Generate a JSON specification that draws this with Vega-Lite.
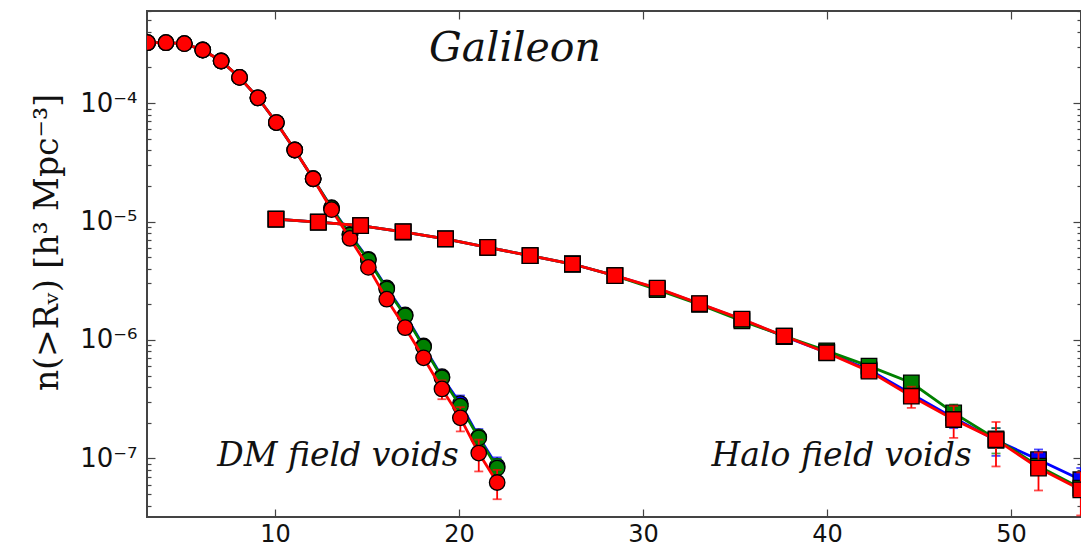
{
  "$schema": "https://vega.github.io/schema/vega-lite/v6.json",
  "width": 934,
  "height": 506,
  "autosize": {"type": "none"},
  "padding": {"left": 147, "top": 11, "right": 0, "bottom": 31},
  "background": "white",
  "config": {
    "view": {"stroke": "#444444", "strokeWidth": 2},
    "axis": {"domain": false, "grid": false, "labelFont": "DejaVu Sans", "labelFontSize": 26, "labelColor": "#111111", "tickColor": "#444444", "tickWidth": 1.2}
  },
  "datasets": {
    "voids": [
      {"type": "DM", "series": "blue", "R": 3.07, "n": 3.24e-4},
      {"type": "DM", "series": "green", "R": 3.07, "n": 3.24e-4},
      {"type": "DM", "series": "red", "R": 3.07, "n": 3.24e-4},
      {"type": "DM", "series": "blue", "R": 4.07, "n": 3.24e-4},
      {"type": "DM", "series": "green", "R": 4.07, "n": 3.24e-4},
      {"type": "DM", "series": "red", "R": 4.07, "n": 3.24e-4},
      {"type": "DM", "series": "blue", "R": 5.07, "n": 3.18e-4},
      {"type": "DM", "series": "green", "R": 5.07, "n": 3.18e-4},
      {"type": "DM", "series": "red", "R": 5.07, "n": 3.18e-4},
      {"type": "DM", "series": "blue", "R": 6.07, "n": 2.81e-4},
      {"type": "DM", "series": "green", "R": 6.07, "n": 2.81e-4},
      {"type": "DM", "series": "red", "R": 6.07, "n": 2.81e-4},
      {"type": "DM", "series": "blue", "R": 7.07, "n": 2.27e-4},
      {"type": "DM", "series": "green", "R": 7.07, "n": 2.27e-4},
      {"type": "DM", "series": "red", "R": 7.07, "n": 2.27e-4},
      {"type": "DM", "series": "blue", "R": 8.07, "n": 1.65e-4},
      {"type": "DM", "series": "green", "R": 8.07, "n": 1.65e-4},
      {"type": "DM", "series": "red", "R": 8.07, "n": 1.65e-4},
      {"type": "DM", "series": "blue", "R": 9.07, "n": 1.11e-4},
      {"type": "DM", "series": "green", "R": 9.07, "n": 1.11e-4},
      {"type": "DM", "series": "red", "R": 9.07, "n": 1.11e-4},
      {"type": "DM", "series": "blue", "R": 10.07, "n": 6.86e-5},
      {"type": "DM", "series": "green", "R": 10.07, "n": 6.86e-5},
      {"type": "DM", "series": "red", "R": 10.07, "n": 6.86e-5},
      {"type": "DM", "series": "blue", "R": 11.07, "n": 4.02e-5},
      {"type": "DM", "series": "green", "R": 11.07, "n": 4.02e-5},
      {"type": "DM", "series": "red", "R": 11.07, "n": 4.02e-5},
      {"type": "DM", "series": "blue", "R": 12.07, "n": 2.30e-5},
      {"type": "DM", "series": "green", "R": 12.07, "n": 2.30e-5},
      {"type": "DM", "series": "red", "R": 12.07, "n": 2.30e-5},
      {"type": "DM", "series": "blue", "R": 13.07, "n": 1.31e-5},
      {"type": "DM", "series": "green", "R": 13.07, "n": 1.30e-5},
      {"type": "DM", "series": "red", "R": 13.07, "n": 1.26e-5},
      {"type": "DM", "series": "blue", "R": 14.07, "n": 7.8e-6},
      {"type": "DM", "series": "green", "R": 14.07, "n": 7.7e-6},
      {"type": "DM", "series": "red", "R": 14.07, "n": 7.2e-6},
      {"type": "DM", "series": "blue", "R": 15.07, "n": 4.80e-6},
      {"type": "DM", "series": "green", "R": 15.07, "n": 4.73e-6},
      {"type": "DM", "series": "red", "R": 15.07, "n": 4.10e-6},
      {"type": "DM", "series": "blue", "R": 16.07, "n": 2.75e-6},
      {"type": "DM", "series": "green", "R": 16.07, "n": 2.69e-6},
      {"type": "DM", "series": "red", "R": 16.07, "n": 2.21e-6},
      {"type": "DM", "series": "blue", "R": 17.07, "n": 1.63e-6},
      {"type": "DM", "series": "green", "R": 17.07, "n": 1.60e-6},
      {"type": "DM", "series": "red", "R": 17.07, "n": 1.27e-6, "lo": 1.15e-6, "hi": 1.39e-6},
      {"type": "DM", "series": "blue", "R": 18.07, "n": 8.9e-7},
      {"type": "DM", "series": "green", "R": 18.07, "n": 8.74e-7},
      {"type": "DM", "series": "red", "R": 18.07, "n": 7.07e-7, "lo": 6.3e-7, "hi": 7.9e-7},
      {"type": "DM", "series": "blue", "R": 19.07, "n": 4.9e-7, "lo": 4.4e-7, "hi": 5.4e-7},
      {"type": "DM", "series": "green", "R": 19.07, "n": 4.80e-7, "lo": 4.3e-7, "hi": 5.3e-7},
      {"type": "DM", "series": "red", "R": 19.07, "n": 3.86e-7, "lo": 3.16e-7, "hi": 4.56e-7},
      {"type": "DM", "series": "blue", "R": 20.07, "n": 2.9e-7, "lo": 2.45e-7, "hi": 3.4e-7},
      {"type": "DM", "series": "green", "R": 20.07, "n": 2.76e-7, "lo": 2.4e-7, "hi": 3.1e-7},
      {"type": "DM", "series": "red", "R": 20.07, "n": 2.20e-7, "lo": 1.69e-7, "hi": 2.71e-7},
      {"type": "DM", "series": "blue", "R": 21.07, "n": 1.52e-7, "lo": 1.27e-7, "hi": 1.77e-7},
      {"type": "DM", "series": "green", "R": 21.07, "n": 1.49e-7, "lo": 1.25e-7, "hi": 1.73e-7},
      {"type": "DM", "series": "red", "R": 21.07, "n": 1.11e-7, "lo": 7.76e-8, "hi": 1.44e-7},
      {"type": "DM", "series": "blue", "R": 22.07, "n": 8.6e-8, "lo": 7.0e-8, "hi": 1.02e-7},
      {"type": "DM", "series": "green", "R": 22.07, "n": 8.28e-8, "lo": 6.6e-8, "hi": 9.9e-8},
      {"type": "DM", "series": "red", "R": 22.07, "n": 6.26e-8, "lo": 4.52e-8, "hi": 8.0e-8},
      {"type": "Halo", "series": "blue", "R": 10.05, "n": 1.05e-5},
      {"type": "Halo", "series": "green", "R": 10.05, "n": 1.05e-5},
      {"type": "Halo", "series": "red", "R": 10.05, "n": 1.05e-5},
      {"type": "Halo", "series": "blue", "R": 12.35, "n": 9.9e-6},
      {"type": "Halo", "series": "green", "R": 12.35, "n": 9.9e-6},
      {"type": "Halo", "series": "red", "R": 12.35, "n": 9.9e-6},
      {"type": "Halo", "series": "blue", "R": 14.65, "n": 9.25e-6},
      {"type": "Halo", "series": "green", "R": 14.65, "n": 9.25e-6},
      {"type": "Halo", "series": "red", "R": 14.65, "n": 9.25e-6},
      {"type": "Halo", "series": "blue", "R": 16.96, "n": 8.2e-6},
      {"type": "Halo", "series": "green", "R": 16.96, "n": 8.2e-6},
      {"type": "Halo", "series": "red", "R": 16.96, "n": 8.2e-6},
      {"type": "Halo", "series": "blue", "R": 19.26, "n": 7.14e-6},
      {"type": "Halo", "series": "green", "R": 19.26, "n": 7.14e-6},
      {"type": "Halo", "series": "red", "R": 19.26, "n": 7.14e-6},
      {"type": "Halo", "series": "blue", "R": 21.56, "n": 6.05e-6},
      {"type": "Halo", "series": "green", "R": 21.56, "n": 6.05e-6},
      {"type": "Halo", "series": "red", "R": 21.56, "n": 6.05e-6},
      {"type": "Halo", "series": "blue", "R": 23.86, "n": 5.15e-6},
      {"type": "Halo", "series": "green", "R": 23.86, "n": 5.15e-6},
      {"type": "Halo", "series": "red", "R": 23.86, "n": 5.15e-6},
      {"type": "Halo", "series": "blue", "R": 26.16, "n": 4.38e-6},
      {"type": "Halo", "series": "green", "R": 26.16, "n": 4.38e-6},
      {"type": "Halo", "series": "red", "R": 26.16, "n": 4.38e-6},
      {"type": "Halo", "series": "blue", "R": 28.47, "n": 3.49e-6},
      {"type": "Halo", "series": "green", "R": 28.47, "n": 3.49e-6},
      {"type": "Halo", "series": "red", "R": 28.47, "n": 3.49e-6},
      {"type": "Halo", "series": "blue", "R": 30.77, "n": 2.72e-6},
      {"type": "Halo", "series": "green", "R": 30.77, "n": 2.66e-6},
      {"type": "Halo", "series": "red", "R": 30.77, "n": 2.74e-6},
      {"type": "Halo", "series": "blue", "R": 33.07, "n": 2.02e-6},
      {"type": "Halo", "series": "green", "R": 33.07, "n": 2.0e-6},
      {"type": "Halo", "series": "red", "R": 33.07, "n": 2.03e-6},
      {"type": "Halo", "series": "blue", "R": 35.37, "n": 1.49e-6},
      {"type": "Halo", "series": "green", "R": 35.37, "n": 1.45e-6},
      {"type": "Halo", "series": "red", "R": 35.37, "n": 1.50e-6},
      {"type": "Halo", "series": "blue", "R": 37.67, "n": 1.07e-6},
      {"type": "Halo", "series": "green", "R": 37.67, "n": 1.08e-6},
      {"type": "Halo", "series": "red", "R": 37.67, "n": 1.08e-6},
      {"type": "Halo", "series": "blue", "R": 39.98, "n": 7.85e-7},
      {"type": "Halo", "series": "green", "R": 39.98, "n": 8.1e-7},
      {"type": "Halo", "series": "red", "R": 39.98, "n": 7.80e-7, "lo": 7.2e-7, "hi": 8.4e-7},
      {"type": "Halo", "series": "blue", "R": 42.28, "n": 5.6e-7},
      {"type": "Halo", "series": "green", "R": 42.28, "n": 6.02e-7},
      {"type": "Halo", "series": "red", "R": 42.28, "n": 5.46e-7, "lo": 4.9e-7, "hi": 6.0e-7},
      {"type": "Halo", "series": "blue", "R": 44.58, "n": 3.5e-7},
      {"type": "Halo", "series": "green", "R": 44.58, "n": 4.35e-7, "lo": 3.9e-7, "hi": 4.8e-7},
      {"type": "Halo", "series": "red", "R": 44.58, "n": 3.35e-7, "lo": 2.67e-7, "hi": 4.03e-7},
      {"type": "Halo", "series": "blue", "R": 46.88, "n": 2.2e-7, "lo": 1.8e-7, "hi": 2.6e-7},
      {"type": "Halo", "series": "green", "R": 46.88, "n": 2.42e-7, "lo": 2.0e-7, "hi": 2.85e-7},
      {"type": "Halo", "series": "red", "R": 46.88, "n": 2.13e-7, "lo": 1.49e-7, "hi": 2.77e-7},
      {"type": "Halo", "series": "blue", "R": 49.18, "n": 1.42e-7, "lo": 1.05e-7, "hi": 1.8e-7},
      {"type": "Halo", "series": "green", "R": 49.18, "n": 1.46e-7, "lo": 1.1e-7, "hi": 1.8e-7},
      {"type": "Halo", "series": "red", "R": 49.18, "n": 1.44e-7, "lo": 8.55e-8, "hi": 2.03e-7},
      {"type": "Halo", "series": "blue", "R": 51.49, "n": 9.75e-8, "lo": 7.6e-8, "hi": 1.19e-7},
      {"type": "Halo", "series": "green", "R": 51.49, "n": 8.6e-8},
      {"type": "Halo", "series": "red", "R": 51.49, "n": 8.28e-8, "lo": 5.36e-8, "hi": 1.12e-7},
      {"type": "Halo", "series": "blue", "R": 53.79, "n": 6.6e-8, "lo": 4.9e-8, "hi": 8.3e-8},
      {"type": "Halo", "series": "green", "R": 53.79, "n": 5.6e-8},
      {"type": "Halo", "series": "red", "R": 53.79, "n": 5.43e-8, "lo": 3.3e-8, "hi": 7.6e-8}
    ],
    "notes": [
      {"label": "Galileon", "kind": "title", "R": 23.04, "n": 2.29e-4},
      {"label": "DM field voids", "kind": "note", "R": 13.42, "n": 8.57e-8},
      {"label": "Halo field voids", "kind": "note", "R": 40.79, "n": 8.57e-8}
    ]
  },
  "data": {"name": "voids"},
  "resolve": {"axis": {"x": "independent", "y": "independent"}},
  "layer": [
    {
      "transform": [{"filter": "datum.series == 'blue'"}],
      "mark": {"type": "line", "color": "#0000ff", "strokeWidth": 2.8, "clip": true},
      "encoding": {
        "x": {"field": "R", "type": "quantitative", "scale": {"domain": [3.04, 53.8], "nice": false, "zero": false}, "axis": null},
        "y": {"field": "n", "type": "quantitative", "scale": {"type": "log", "domain": [3.2e-8, 6.0e-4], "nice": false}, "axis": null},
        "detail": {"field": "type"}
      }
    },
    {
      "transform": [{"filter": "datum.series == 'blue' && isValid(datum.lo)"}],
      "mark": {"type": "errorbar", "ticks": true, "size": 9, "thickness": 1.8, "color": "#0000ff"},
      "encoding": {
        "x": {"field": "R", "type": "quantitative", "axis": null},
        "y": {"field": "lo", "type": "quantitative", "axis": null},
        "y2": {"field": "hi"}
      }
    },
    {
      "transform": [{"filter": "datum.series == 'blue'"}],
      "mark": {"type": "point", "filled": true, "color": "#0000ff", "stroke": "#000000", "strokeWidth": 1.3, "opacity": 1, "size": 240, "clip": true},
      "encoding": {
        "x": {"field": "R", "type": "quantitative", "axis": null},
        "y": {"field": "n", "type": "quantitative", "axis": null},
        "shape": {"field": "type", "type": "nominal", "scale": {"domain": ["DM", "Halo"], "range": ["circle", "square"]}, "legend": null}
      }
    },
    {
      "transform": [{"filter": "datum.series == 'green'"}],
      "mark": {"type": "line", "color": "#008000", "strokeWidth": 2.8, "clip": true},
      "encoding": {
        "x": {"field": "R", "type": "quantitative", "axis": null},
        "y": {"field": "n", "type": "quantitative", "axis": null},
        "detail": {"field": "type"}
      }
    },
    {
      "transform": [{"filter": "datum.series == 'green' && isValid(datum.lo)"}],
      "mark": {"type": "errorbar", "ticks": true, "size": 9, "thickness": 1.8, "color": "#008000"},
      "encoding": {
        "x": {"field": "R", "type": "quantitative", "axis": null},
        "y": {"field": "lo", "type": "quantitative", "axis": null},
        "y2": {"field": "hi"}
      }
    },
    {
      "transform": [{"filter": "datum.series == 'green'"}],
      "mark": {"type": "point", "filled": true, "color": "#008000", "stroke": "#000000", "strokeWidth": 1.3, "opacity": 1, "size": 240, "clip": true},
      "encoding": {
        "x": {"field": "R", "type": "quantitative", "axis": null},
        "y": {"field": "n", "type": "quantitative", "axis": null},
        "shape": {"field": "type", "type": "nominal", "scale": {"domain": ["DM", "Halo"], "range": ["circle", "square"]}, "legend": null}
      }
    },
    {
      "transform": [{"filter": "datum.series == 'red'"}],
      "mark": {"type": "line", "color": "#ff0000", "strokeWidth": 2.8, "clip": true},
      "encoding": {
        "x": {"field": "R", "type": "quantitative", "axis": null},
        "y": {"field": "n", "type": "quantitative", "axis": null},
        "detail": {"field": "type"}
      }
    },
    {
      "transform": [{"filter": "datum.series == 'red' && isValid(datum.lo)"}],
      "mark": {"type": "errorbar", "ticks": true, "size": 9, "thickness": 1.8, "color": "#ff0000"},
      "encoding": {
        "x": {"field": "R", "type": "quantitative", "axis": null},
        "y": {"field": "lo", "type": "quantitative", "axis": null},
        "y2": {"field": "hi"}
      }
    },
    {
      "transform": [{"filter": "datum.series == 'red'"}],
      "mark": {"type": "point", "filled": true, "color": "#ff0000", "stroke": "#000000", "strokeWidth": 1.3, "opacity": 1, "size": 240, "clip": true},
      "encoding": {
        "x": {"field": "R", "type": "quantitative", "axis": null},
        "y": {"field": "n", "type": "quantitative", "axis": null},
        "shape": {"field": "type", "type": "nominal", "scale": {"domain": ["DM", "Halo"], "range": ["circle", "square"]}, "legend": null}
      }
    },
    {
      "data": {"name": "notes"},
      "transform": [{"filter": "datum.kind == 'title'"}],
      "mark": {"type": "text", "font": "DejaVu Serif", "fontStyle": "italic", "fontSize": 41, "color": "#111111", "align": "center", "baseline": "alphabetic"},
      "encoding": {
        "x": {"field": "R", "type": "quantitative", "axis": null},
        "y": {"field": "n", "type": "quantitative", "axis": null},
        "text": {"field": "label"}
      }
    },
    {
      "data": {"name": "notes"},
      "transform": [{"filter": "datum.kind == 'note'"}],
      "mark": {"type": "text", "font": "DejaVu Serif", "fontStyle": "italic", "fontSize": 33, "color": "#111111", "align": "center", "baseline": "alphabetic"},
      "encoding": {
        "x": {"field": "R", "type": "quantitative", "axis": null},
        "y": {"field": "n", "type": "quantitative", "axis": null},
        "text": {"field": "label"}
      }
    },
    {
      "mark": {"type": "point", "opacity": 0},
      "encoding": {
        "x": {"field": "R", "type": "quantitative", "axis": {"orient": "bottom", "values": [10, 20, 30, 40, 50], "tickSize": -8, "labelPadding": 13, "labelFontSize": 24, "title": null}},
        "y": {"field": "n", "type": "quantitative", "axis": {
          "orient": "left",
          "values": [4e-8, 5e-8, 6e-8, 7e-8, 8e-8, 9e-8, 1e-7, 2e-7, 3e-7, 4e-7, 5e-7, 6e-7, 7e-7, 8e-7, 9e-7, 1e-6, 2e-6, 3e-6, 4e-6, 5e-6, 6e-6, 7e-6, 8e-6, 9e-6, 1e-5, 2e-5, 3e-5, 4e-5, 5e-5, 6e-5, 7e-5, 8e-5, 9e-5, 1e-4, 2e-4, 3e-4, 4e-4, 5e-4, 6e-4],
          "tickSize": {"condition": {"test": "abs(log(datum.value)/LN10 - round(log(datum.value)/LN10)) < 0.01", "value": -8}, "value": -4},
          "labelExpr": "abs(datum.value/1e-4 - 1) < 0.01 ? '10⁻⁴' : abs(datum.value/1e-5 - 1) < 0.01 ? '10⁻⁵' : abs(datum.value/1e-6 - 1) < 0.01 ? '10⁻⁶' : abs(datum.value/1e-7 - 1) < 0.01 ? '10⁻⁷' : ''",
          "labelPadding": 18,
          "labelOverlap": false,
          "title": "n(>Rᵥ) [h³ Mpc⁻³]",
          "titleFont": "DejaVu Serif",
          "titleFontSize": 33,
          "titleFontWeight": "normal",
          "titleColor": "#111111",
          "titleAngle": -90,
          "titleAlign": "center",
          "titleBaseline": "middle",
          "titleX": -100,
          "titleY": 231
        }}
      }
    },
    {
      "mark": {"type": "point", "opacity": 0},
      "encoding": {
        "x": {"field": "R", "type": "quantitative", "axis": {"orient": "top", "values": [10, 20, 30, 40, 50], "tickSize": -8, "labels": false, "title": null}},
        "y": {"field": "n", "type": "quantitative", "axis": {
          "orient": "right",
          "values": [4e-8, 5e-8, 6e-8, 7e-8, 8e-8, 9e-8, 1e-7, 2e-7, 3e-7, 4e-7, 5e-7, 6e-7, 7e-7, 8e-7, 9e-7, 1e-6, 2e-6, 3e-6, 4e-6, 5e-6, 6e-6, 7e-6, 8e-6, 9e-6, 1e-5, 2e-5, 3e-5, 4e-5, 5e-5, 6e-5, 7e-5, 8e-5, 9e-5, 1e-4, 2e-4, 3e-4, 4e-4, 5e-4, 6e-4],
          "tickSize": {"condition": {"test": "abs(log(datum.value)/LN10 - round(log(datum.value)/LN10)) < 0.01", "value": -8}, "value": -4},
          "labels": false,
          "title": null
        }}
      }
    }
  ]
}
